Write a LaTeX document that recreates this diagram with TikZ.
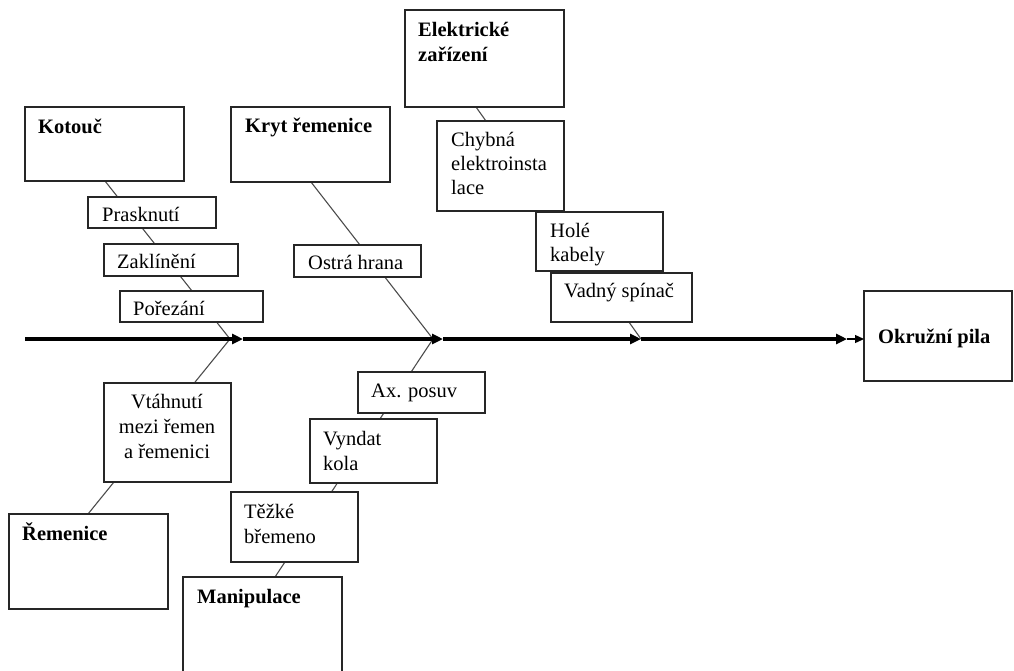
\documentclass[tikz,border=0pt]{standalone}
\usepackage{fontspec}
\setmainfont{Liberation Serif}
\usetikzlibrary{arrows.meta,calc}
\pgfdeclarelayer{bg}
\pgfsetlayers{bg,main}

\tikzset{
  box/.style={draw=black!85, line width=1.2pt, fill=white, inner sep=0pt, outer sep=0pt},
  bone/.style={draw=black!70, line width=1.1pt},
  spine/.style={line width=3.2pt, -{Triangle[length=11pt,width=10pt]}},
  lastarrow/.style={line width=1.3pt, -{Triangle[length=9pt,width=8pt]}},
  txt/.style={inner sep=0pt, anchor=base west, font=\fontsize{20.5}{24}\selectfont},
  ctxt/.style={txt, anchor=base},
  head/.style={txt, font=\fontsize{20.5}{24}\selectfont\bfseries},
}

% rectangle node given by its corners (x1,y1) and (x2,y2)
\newcommand\boxrect[5]{%
  \node[box, minimum width={(#4-#2)*1pt}, minimum height={(#5-#3)*1pt}]
    (#1) at ({(#2+#4)/2},{(#3+#5)/2}) {};}

\begin{document}
\begin{tikzpicture}[x=1pt, y=-1pt]
\useasboundingbox (0,0) rectangle (1014,670);

% junctions on the spine and arrow tips
\coordinate (s0) at (25,339);
\coordinate (j1) at (230,339);
\coordinate (j2) at (433,339);
\coordinate (j3) at (641,339);
\coordinate (a1) at (243,339);
\coordinate (a2) at (443,339);
\coordinate (a4) at (847,339);

% main categories
\boxrect{kotouc}{25}{107}{184}{181}
\boxrect{kryt}{231}{107}{390}{182}
\boxrect{elek}{405}{10}{564}{107}
\boxrect{remen}{9}{514}{168}{609}
\boxrect{manip}{183}{577}{342}{690}
\boxrect{okruzni}{864}{291}{1012}{381}

% causes
\boxrect{prask}{88}{197}{216}{228}
\boxrect{zakl}{104}{244}{238}{276}
\boxrect{porez}{120}{291}{263}{322}
\boxrect{vtah}{104}{383}{231}{482}
\boxrect{ostra}{294}{245}{421}{277}
\boxrect{axpos}{358}{372}{485}{413}
\boxrect{vyndat}{310}{419}{437}{483}
\boxrect{tezke}{231}{492}{358}{562}
\boxrect{chybna}{437}{121}{564}{211}
\boxrect{hole}{536}{212}{663}{271}
\boxrect{vadny}{551}{273}{692}{322}

% bones, behind the boxes
\begin{pgfonlayer}{bg}
  \draw[bone] ($(kotouc.south west)+(80,0)$) -- (j1);
  \draw[bone] (j1) -- ($(remen.north west)+(79,0)$);
  \draw[bone] ($(kryt.south west)+(80,0)$) -- (j2);
  \draw[bone] (j2) -- ($(manip.north west)+(92,0)$);
  \draw[bone] ($(elek.south west)+(71,0)$) -- (j3);
\end{pgfonlayer}

% spine
\draw[spine] (s0) -- (a1);
\draw[spine] (a1) -- (a2);
\draw[spine] (a2) -- (j3);
\draw[spine] (j3) -- (a4);
\draw[lastarrow] (a4) -- (a4 -| okruzni.west);

% labels
\node[head] (t-kotouc) at (38,133) {Kotouč};
\node[head] (t-kryt) at (245,132) {Kryt řemenice};
\node[head] (t-elek1) at (418,36) {Elektrické};
\node[head] (t-elek2) at (418,61) {zařízení};
\node[head] (t-remen) at (22,540) {Řemenice};
\node[head] (t-manip) at (197,603) {Manipulace};
\node[head] (t-okruzni) at (878,343) {Okružní pila};

\node[txt] (t-prask) at (102,221) {Prasknutí};
\node[txt] (t-zakl) at (117,268) {Zaklínění};
\node[txt] (t-porez) at (133,315) {Pořezání};
\node[ctxt] (t-vtah1) at (167,408) {Vtáhnutí};
\node[ctxt] (t-vtah2) at (167,433) {mezi řemen};
\node[ctxt] (t-vtah3) at (167,458) {a řemenici};
\node[txt] (t-ostra) at (308,269) {Ostrá hrana};
\node[txt] (t-axpos) at (371,397) {Ax. posuv};
\node[txt] (t-vyndat1) at (323,445) {Vyndat};
\node[txt] (t-vyndat2) at (323,470) {kola};
\node[txt] (t-tezke1) at (244,518) {Těžké};
\node[txt] (t-tezke2) at (244,543) {břemeno};
\node[txt] (t-chybna1) at (451,146) {Chybná};
\node[txt] (t-chybna2) at (451,170) {elektroinsta};
\node[txt] (t-chybna3) at (451,194) {lace};
\node[txt] (t-hole1) at (550,237) {Holé};
\node[txt] (t-hole2) at (550,261) {kabely};
\node[txt] (t-vadny) at (564,297) {Vadný spínač};
\end{tikzpicture}
\end{document}
